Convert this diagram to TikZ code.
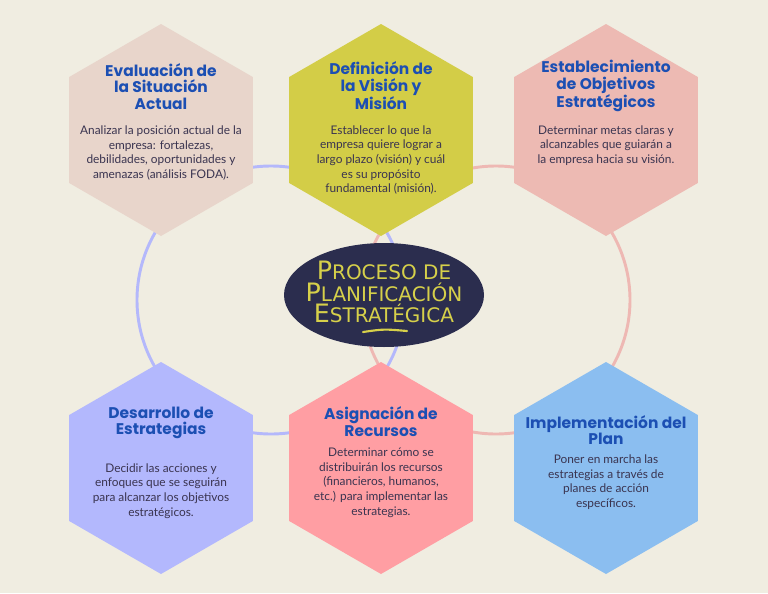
\documentclass[tikz,border=0pt]{standalone}
\usepackage{fontspec}
\setmainfont{Lato}
\newfontfamily\headfont{Poppins}
\newfontfamily\corefont{DejaVu Sans}
\usetikzlibrary{positioning,calc,shapes.geometric}

\definecolor{paper}{HTML}{F0EDE1}
\definecolor{hexsand}{HTML}{E8D5CB}
\definecolor{hexolive}{HTML}{D3CD47}
\definecolor{hexrose}{HTML}{EDBAB3}
\definecolor{hexlilac}{HTML}{B3B8FD}
\definecolor{hexcoral}{HTML}{FF9EA3}
\definecolor{hexsky}{HTML}{8BBEF0}
\definecolor{corenavy}{HTML}{2B2D4E}
\definecolor{coreyellow}{HTML}{D6D04A}
\definecolor{headblue}{HTML}{1C4FB3}
\definecolor{inkgray}{HTML}{3A3450}
\definecolor{ringblue}{HTML}{B4B8FB}
\definecolor{ringred}{HTML}{EEB8B3}

% fake small caps for the centre title
\newcommand\corecap[2]{{\fontsize{19}{16}\selectfont #1}{\fontsize{15}{16}\selectfont\MakeUppercase{#2}}}

\tikzset{
  hexcell/.style={regular polygon, regular polygon sides=6, shape border rotate=30,
    minimum size=159pt, inner sep=0pt, draw=none},
  hexhead/.style={align=center, text=headblue, inner sep=0pt,
    font=\headfont\bfseries\fontsize{11.6}{12.4}\selectfont},
  hexbody/.style={align=center, text=inkgray, inner sep=0pt,
    font=\fontsize{8.9}{11}\selectfont},
  ring/.style={line width=2.2pt},
  coreoval/.style={ellipse, fill=corenavy, minimum width=150pt, minimum height=78pt, inner sep=0pt},
  coretext/.style={align=center, text=coreyellow, inner sep=0pt, font=\corefont\fontsize{15}{16}\selectfont},
}

\begin{document}
\begin{tikzpicture}[x=0.75pt, y=-0.75pt]
    \fill[paper] (0,0) rectangle (768,593);
    \useasboundingbox (0,0) rectangle (768,593);

    % Rings behind everything
    \coordinate (blueC) at (271,300);
    \coordinate (redC) at (496,300);
    \draw[ring, draw=ringblue] (blueC) circle[radius=134];
    \draw[ring, draw=ringred] (redC) circle[radius=134];

    % Hexagons
    \foreach \n/\x/\y/\c in {evalhex/161/130/hexsand, visionhex/381/130/hexolive,
        goalhex/606/130/hexrose, stratehex/161/468/hexlilac,
        resohex/381/468/hexcoral, implhex/606/468/hexsky}
      \node[hexcell, fill=\c] (\n) at (\x,\y) {};

    % Centre
    \node[coreoval] (core) at (384,295) {};
    \node[coretext] (coretitle) at ($(core)+(0,-3)$)
      {\corecap{P}{roceso} \corecap{}{de}\\\corecap{P}{lanificación}\\\corecap{E}{stratégica}};
    \draw[coreyellow, line width=1.6pt, line cap=round] ($(core)+(-21,37)$)
      .. controls ($(core)+(0,34)$) .. ($(core)+(23,36)$);

    % Top row
    \node[hexhead] (evalhead) at ($(evalhex)+(0,-43.5)$) {Evaluación de\\la Situación\\Actual};
    \node[hexbody] (evaltext) at ($(evalhex)+(0,23)$)
      {Analizar la posición actual de la\\empresa: fortalezas,\\debilidades, oportunidades y\\amenazas (análisis FODA).};

    \node[hexhead] (visionhead) at ($(visionhex)+(0,-44)$) {Definición de\\la Visión y\\Misión};
    \node[hexbody] (visiontext) at ($(visionhex)+(0,30)$)
      {Establecer lo que la\\empresa quiere lograr a\\largo plazo (visión) y cuál\\es su propósito\\fundamental (misión).};

    \node[hexhead] (goalhead) at ($(goalhex)+(0,-44)$) {Establecimiento\\de Objetivos\\Estratégicos};
    \node[hexbody] (goaltext) at ($(goalhex)+(0,15.5)$)
      {Determinar metas claras y\\alcanzables que guiarán a\\la empresa hacia su visión.};

    % Bottom row
    \node[hexhead] (stratehead) at ($(stratehex)+(0,-45)$) {Desarrollo de\\Estrategias};
    \node[hexbody] (stratetext) at ($(stratehex)+(0,23)$)
      {Decidir las acciones y\\enfoques que se seguirán\\para alcanzar los objetivos\\estratégicos.};

    \node[hexhead] (resohead) at ($(resohex)+(0,-46.5)$) {Asignación de\\Recursos};
    \node[hexbody] (resotext) at ($(resohex)+(0,14.5)$)
      {Determinar cómo se\\distribuirán los recursos\\(financieros, humanos,\\etc.) para implementar las\\estrategias.};

    \node[hexhead] (implhead) at ($(implhex)+(0,-38)$) {Implementación del\\Plan};
    \node[hexbody] (impltext) at ($(implhex)+(0,14)$)
      {Poner en marcha las\\estrategias a través de\\planes de acción\\específicos.};
\end{tikzpicture}
\end{document}
